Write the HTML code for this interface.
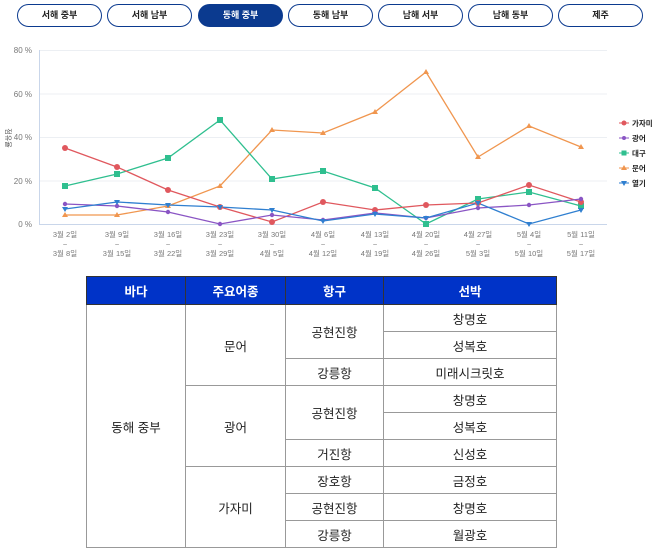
<!DOCTYPE html>
<html><head><meta charset="utf-8"><style>
body{margin:0;width:658px;height:558px;background:#fff;font-family:"Liberation Sans","Noto Sans CJK KR",sans-serif;position:relative;overflow:hidden}
.b{position:absolute;top:4px;width:83px;height:21px;border:1.5px solid #0b3a8f;border-radius:12px;font-size:9px;font-weight:bold;text-align:center;line-height:21px;color:#222}
.b.on{background:#0b3a8f;color:#fff}
table{position:absolute;left:86px;top:276px;border-collapse:collapse;width:471px;font-size:12.5px;color:#222}
td,th{border:1px solid #999;text-align:center;height:26px;padding:0}
th{background:#0033c8;color:#fff;font-weight:bold;height:27px;border-color:#333}
</style></head><body>
<div class="b" style="left:17px">서해 중부</div>
<div class="b" style="left:107px">서해 남부</div>
<div class="b on" style="left:198px">동해 중부</div>
<div class="b" style="left:288px">동해 남부</div>
<div class="b" style="left:378px">남해 서부</div>
<div class="b" style="left:468px">남해 동부</div>
<div class="b" style="left:558px">제주</div>
<svg width="658" height="270" style="position:absolute;left:0;top:0" font-family="Liberation Sans,Noto Sans CJK KR,sans-serif">
<g stroke="#eceff3" stroke-width="1"><line x1="39" x2="607" y1="50.5" y2="50.5"/><line x1="39" x2="607" y1="94" y2="94"/><line x1="39" x2="607" y1="137.5" y2="137.5"/><line x1="39" x2="607" y1="181" y2="181"/></g>
<line x1="39" x2="607" y1="224.5" y2="224.5" stroke="#c9d6ea"/>
<line x1="39.5" x2="39.5" y1="50" y2="224" stroke="#c9d6ea"/>
<g font-size="8" fill="#777" text-anchor="end"><text x="32" y="53">80 %</text><text x="32" y="97">60 %</text><text x="32" y="140">40 %</text><text x="32" y="184">20 %</text><text x="32" y="227">0 %</text></g>
<text x="6" y="138" font-size="7" fill="#555" transform="rotate(90 6 138)" text-anchor="middle">점유율</text>
<g font-size="7.5" fill="#777" text-anchor="middle">
<g transform="translate(65,0)"><text y="237">3월 2일</text><text y="247">~</text><text y="256">3월 8일</text></g>
<g transform="translate(117,0)"><text y="237">3월 9일</text><text y="247">~</text><text y="256">3월 15일</text></g>
<g transform="translate(168,0)"><text y="237">3월 16일</text><text y="247">~</text><text y="256">3월 22일</text></g>
<g transform="translate(220,0)"><text y="237">3월 23일</text><text y="247">~</text><text y="256">3월 29일</text></g>
<g transform="translate(272,0)"><text y="237">3월 30일</text><text y="247">~</text><text y="256">4월 5일</text></g>
<g transform="translate(323,0)"><text y="237">4월 6일</text><text y="247">~</text><text y="256">4월 12일</text></g>
<g transform="translate(375,0)"><text y="237">4월 13일</text><text y="247">~</text><text y="256">4월 19일</text></g>
<g transform="translate(426,0)"><text y="237">4월 20일</text><text y="247">~</text><text y="256">4월 26일</text></g>
<g transform="translate(478,0)"><text y="237">4월 27일</text><text y="247">~</text><text y="256">5월 3일</text></g>
<g transform="translate(529,0)"><text y="237">5월 4일</text><text y="247">~</text><text y="256">5월 10일</text></g>
<g transform="translate(581,0)"><text y="237">5월 11일</text><text y="247">~</text><text y="256">5월 17일</text></g>
</g>
<g fill="none" stroke-width="1.3">
<polyline stroke="#f0964f" points="65,215 117,215 168,206 220,186 272,130 323,133 375,112 426,72 478,157 529,126 581,147"/>
<polyline stroke="#2fbf8f" points="65,186 117,174 168,158 220,120 272,179 323,171 375,188 426,224 478,199 529,192 581,206"/>
<polyline stroke="#e0585e" points="65,148 117,167 168,190 220,207 272,222 323,202 375,210 426,205 478,203 529,185 581,202"/>
<polyline stroke="#8a55c4" points="65,204 117,206 168,212 220,224 272,215 323,220 375,213 426,218 478,208 529,205 581,199"/>
<polyline stroke="#2f7fd0" points="65,209 117,202 168,205 220,207 272,210 323,221 375,214 426,218 478,203 529,224 581,210"/>
</g>
<g fill="#f0964f"><path d="M65,212l3,5h-6z M117,212l3,5h-6z M168,203l3,5h-6z M220,183l3,5h-6z M272,127l3,5h-6z M323,130l3,5h-6z M375,109l3,5h-6z M426,69l3,5h-6z M478,154l3,5h-6z M529,123l3,5h-6z M581,144l3,5h-6z"/></g>
<g fill="#2fbf8f"><rect x="62" y="183" width="6" height="6"/><rect x="114" y="171" width="6" height="6"/><rect x="165" y="155" width="6" height="6"/><rect x="217" y="117" width="6" height="6"/><rect x="269" y="176" width="6" height="6"/><rect x="320" y="168" width="6" height="6"/><rect x="372" y="185" width="6" height="6"/><rect x="423" y="221" width="6" height="6"/><rect x="475" y="196" width="6" height="6"/><rect x="526" y="189" width="6" height="6"/><rect x="578" y="203" width="6" height="6"/></g>
<g fill="#e0585e"><circle cx="65" cy="148" r="3"/><circle cx="117" cy="167" r="3"/><circle cx="168" cy="190" r="3"/><circle cx="220" cy="207" r="3"/><circle cx="272" cy="222" r="3"/><circle cx="323" cy="202" r="3"/><circle cx="375" cy="210" r="3"/><circle cx="426" cy="205" r="3"/><circle cx="478" cy="203" r="3"/><circle cx="529" cy="185" r="3"/><circle cx="581" cy="202" r="3"/></g>
<g fill="#8a55c4"><circle cx="65" cy="204" r="2.2"/><circle cx="117" cy="206" r="2.2"/><circle cx="168" cy="212" r="2.2"/><circle cx="220" cy="224" r="2.2"/><circle cx="272" cy="215" r="2.2"/><circle cx="323" cy="220" r="2.2"/><circle cx="375" cy="213" r="2.2"/><circle cx="426" cy="218" r="2.2"/><circle cx="478" cy="208" r="2.2"/><circle cx="529" cy="205" r="2.2"/><circle cx="581" cy="199" r="2.2"/></g>
<g fill="#2f7fd0"><path d="M62,207h6l-3,5z M114,200h6l-3,5z M165,203h6l-3,5z M217,205h6l-3,5z M269,208h6l-3,5z M320,219h6l-3,5z M372,212h6l-3,5z M423,216h6l-3,5z M475,201h6l-3,5z M526,222h6l-3,5z M578,208h6l-3,5z"/></g>
<g font-size="7.5" fill="#222" font-weight="bold">
<line x1="619" x2="629" y1="123" y2="123" stroke="#e0585e"/><circle cx="624" cy="123" r="2.5" fill="#e0585e"/><text x="632" y="126">가자미</text>
<line x1="619" x2="629" y1="138" y2="138" stroke="#8a55c4"/><circle cx="624" cy="138" r="2" fill="#8a55c4"/><text x="632" y="141">광어</text>
<line x1="619" x2="629" y1="153" y2="153" stroke="#2fbf8f"/><rect x="621.5" y="150.5" width="5" height="5" fill="#2fbf8f"/><text x="632" y="156">대구</text>
<line x1="619" x2="629" y1="168" y2="168" stroke="#f0964f"/><path d="M624,165l3,5h-6z" fill="#f0964f"/><text x="632" y="171">문어</text>
<line x1="619" x2="629" y1="183" y2="183" stroke="#2f7fd0"/><path d="M621,181h6l-3,5z" fill="#2f7fd0"/><text x="632" y="186">열기</text>
</g>
</svg>
<table>
<tr><th style="width:98px">바다</th><th style="width:99px">주요어종</th><th style="width:97px">항구</th><th>선박</th></tr>
<tr><td rowspan="9">동해 중부</td><td rowspan="3">문어</td><td rowspan="2">공현진항</td><td>창명호</td></tr>
<tr><td>성복호</td></tr>
<tr><td>강릉항</td><td>미래시크릿호</td></tr>
<tr><td rowspan="3">광어</td><td rowspan="2">공현진항</td><td>창명호</td></tr>
<tr><td>성복호</td></tr>
<tr><td>거진항</td><td>신성호</td></tr>
<tr><td rowspan="3">가자미</td><td>장호항</td><td>금정호</td></tr>
<tr><td>공현진항</td><td>창명호</td></tr>
<tr><td>강릉항</td><td>월광호</td></tr>
</table>
</body></html>
